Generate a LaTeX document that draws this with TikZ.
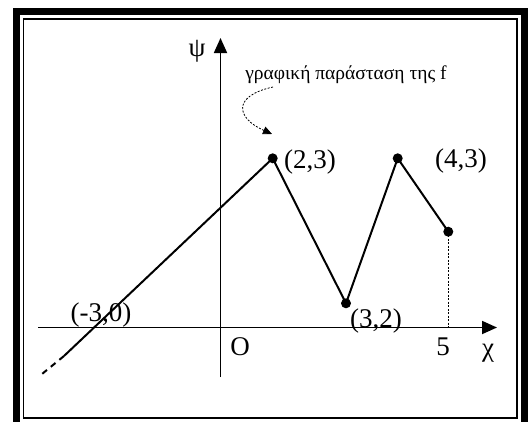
\documentclass[tikz,border=0pt]{standalone}
\usepackage{fontspec}
\setmainfont{Liberation Serif}
\usetikzlibrary{arrows.meta}

\begin{document}
\begin{tikzpicture}[x=1pt, y=-1pt, >={Triangle[length=15pt,width=13pt]},
  pt/.style={circle, fill, inner sep=0pt, minimum size=10pt},
  lbl/.style={inner sep=0pt, font=\fontsize{27}{31}\selectfont},
  curve/.style={line width=2pt}]
  \useasboundingbox (0,0) rectangle (528,421);
  % frame
  \draw[line width=7pt] (16.5,11.5) rectangle (524,428);
  \draw[line width=1.5pt] (23.5,19) rectangle (517,418);
  % axes
  \coordinate (xl) at (38,327.5);
  \coordinate (xr) at (497,327.5);
  \coordinate (yb) at (220.5,377);
  \coordinate (yt) at (220.5,38);
  \draw[->, line width=1.8pt] (xl) -- (xr);
  \draw[->, line width=1.8pt] (yb) -- (yt);
  \node[lbl] (psi) at (197,51) {ψ};
  \node[lbl] (chi) at (488,353) {χ};
  \node[lbl] (orig) at (240,347) {O};
  \node[lbl] (five) at (443,347) {5};
  % graph of f
  \node[pt] (A) at (272.7,158.3) {};
  \node[pt] (B) at (346,303.3) {};
  \node[pt] (C) at (397.7,158.3) {};
  \node[pt] (D) at (448.3,231.7) {};
  \coordinate (E) at (64,356);
  \coordinate (F) at (42,374);
  \coordinate (D0) at (448.3,327.5);
  \draw[curve] (E) -- (A.center) -- (B.center) -- (C.center) -- (D.center);
  \draw[curve, dash pattern=on 6pt off 5pt] (E) -- (F);
  \draw[line width=0.8pt, dash pattern=on 2pt off 1.5pt] (D.center) -- (D0);
  \node[lbl] (lA) at (310,161.7) {(2,3)};
  \node[lbl] (lC) at (461,161) {(4,3)};
  \node[lbl] (lB) at (376,321) {(3,2)};
  \node[lbl] (lM) at (101,315) {(-3,0)};
  % caption
  \node[inner sep=0pt, font=\fontsize{19.5}{23}\selectfont] (cap) at (346,75) {γραφική παράσταση της f};
  \coordinate (s) at (273,87);
  \coordinate (t) at (272,134);
  \draw[->, >={Triangle[length=9pt,width=8pt]}, line width=0.8pt, dash pattern=on 2pt off 1.5pt]
    (s) .. controls (232,96) and (236,118) .. (t);
\end{tikzpicture}
\end{document}
